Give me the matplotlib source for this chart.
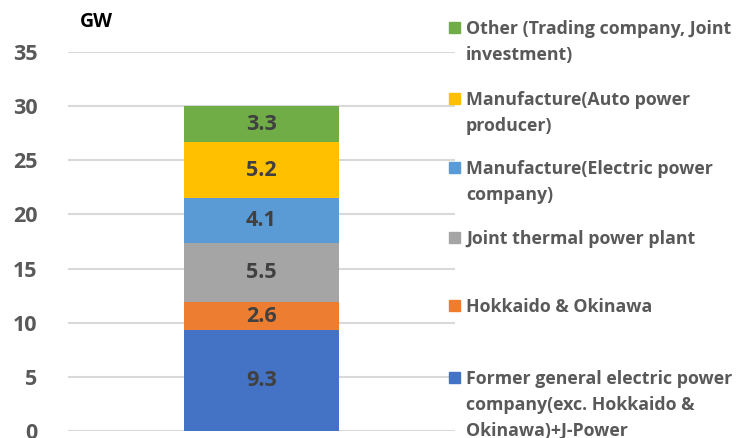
import matplotlib.pyplot as plt
from matplotlib.patches import Rectangle

# data (bottom to top)
labels = ['Former general electric power\ncompany(exc. Hokkaido &\nOkinawa)+J-Power',
          'Hokkaido & Okinawa',
          'Joint thermal power plant',
          'Manufacture(Electric power\ncompany)',
          'Manufacture(Auto power\nproducer)',
          'Other (Trading company, Joint\ninvestment)']
values = [9.3, 2.6, 5.5, 4.1, 5.2, 3.3]
colors = ['#4472c4', '#ed7d31', '#a5a5a5', '#5b9bd5', '#ffc000', '#70ad47']
# legend marker y positions (figure pixels from top), as laid out in the original
legend_y = [377, 305, 237, 167, 98, 27]

plt.rcParams['font.family'] = ['Open Sans', 'DejaVu Sans']
plt.rcParams['font.weight'] = 'bold'

W, H = 738, 438
fig = plt.figure(figsize=(W / 100, H / 100), dpi=100)
ax = fig.add_axes([68 / W, 1 - 431 / H, (455 - 68) / W, (431 - 52) / H])

bottom = 0
for v, c in zip(values, colors):
    ax.bar(0, v, width=0.4, bottom=bottom, color=c, zorder=3)
    ax.text(0, bottom + v / 2, '%.1f' % v, ha='center', va='center',
            fontsize=15.5, fontweight='bold', color='#404040', zorder=4)
    bottom += v

ax.set_xlim(-0.5, 0.5)
ax.set_ylim(0, 35)
ax.set_yticks(range(0, 36, 5))
ax.set_xticks([])
ax.yaxis.grid(True, color='#d9d9d9', linewidth=1.5, zorder=0)
for s in ax.spines.values():
    s.set_visible(False)
ax.tick_params(axis='y', length=0, pad=22, labelsize=15.5, labelcolor='#595959')
for t in ax.get_yticklabels():
    t.set_fontweight('bold')

fig.text(80 / W, 1 - 22 / H, 'GW', fontsize=14, fontweight='bold',
         color='black', va='center')

for lab, c, y in zip(labels, colors, legend_y):
    fig.patches.append(Rectangle((449 / W, 1 - (y + 6) / H), 11 / W, 11 / H,
                                 transform=fig.transFigure, color=c))
    fig.text(466 / W, 1 - (y - 7) / H, lab, fontsize=12.8, fontweight='bold',
             color='#595959', va='top', linespacing=1.55)

fig.savefig('out.png', dpi=100)
